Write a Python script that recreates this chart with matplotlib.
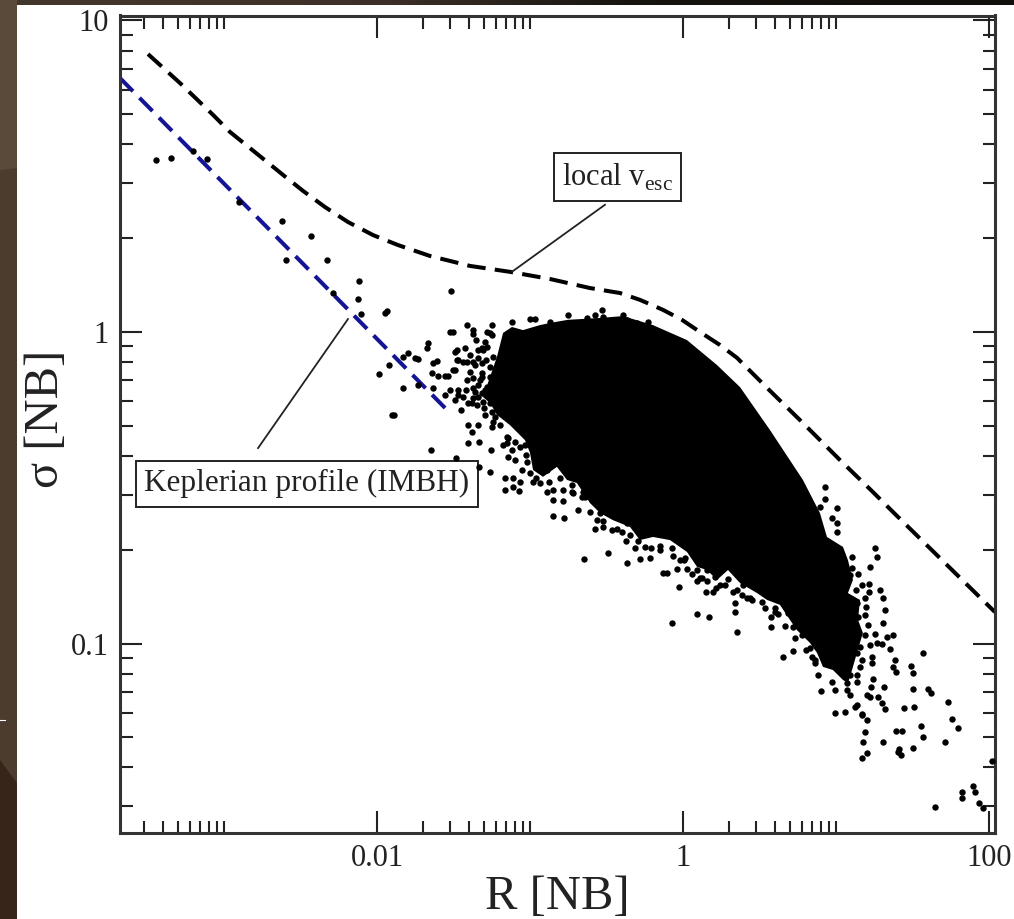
import numpy as np
import matplotlib
matplotlib.use('Agg')
import matplotlib.pyplot as plt
from matplotlib.ticker import FixedLocator, NullFormatter

plt.rcParams['font.family'] = ['Liberation Serif', 'DejaVu Serif']
plt.rcParams['mathtext.fontset'] = 'custom'
plt.rcParams['mathtext.rm'] = 'Liberation Serif'

# values, as log10(R) and log10(sigma)

# local escape velocity curve
vesc_log_r = [-3.497, -3.288, -3.072, -2.961, -2.752, -2.614, -2.484, -2.340, -2.190, -2.026,
              -1.863, -1.654, -1.392, -1.131, -0.869, -0.608, -0.412, -0.281, -0.131, -0.007,
              0.111, 0.242, 0.353, 0.569, 0.765, 1.026, 1.242, 1.373, 1.680, 2.039]
vesc_log_s = [0.892, 0.799, 0.697, 0.642, 0.559, 0.504, 0.453, 0.401, 0.353, 0.311,
              0.279, 0.244, 0.212, 0.193, 0.170, 0.141, 0.125, 0.103, 0.071, 0.039,
              0.0, -0.042, -0.083, -0.189, -0.283, -0.411, -0.514, -0.578, -0.726, -0.899]

# keplerian profile, straight in log-log
kep_log_r = [-3.680, -1.523]
kep_log_s = [0.815, -0.260]

# outline of the part of the cloud where the points merge to solid black
core_log_r = [-1.307, -1.261, -1.216, -1.176, -1.118, -1.046, -0.935, -0.869, -0.752, -0.542,
              -0.392, -0.196, 0.026, 0.222, 0.373, 0.569, 0.784, 0.895, 0.941, 1.046,
              1.078, 1.111, 1.078, 1.157, 1.144, 1.176, 1.137, 1.105, 1.078, 1.046,
              0.980, 0.915, 0.876, 0.830, 0.745, 0.699, 0.634, 0.549, 0.484, 0.373,
              0.294, 0.222, 0.157, 0.092, 0.026, -0.085, -0.196, -0.281, -0.346, -0.458,
              -0.542, -0.608, -0.693, -0.758, -0.824, -0.915, -0.980, -1.000, -1.033, -1.131,
              -1.216, -1.261]
core_log_s = [-0.209, -0.144, -0.080, -0.003, 0.016, 0.006, 0.022, 0.029, 0.039, 0.045,
              0.051, 0.022, -0.026, -0.106, -0.177, -0.315, -0.475, -0.581, -0.658, -0.690,
              -0.732, -0.796, -0.838, -0.860, -0.924, -0.966, -1.030, -1.085, -1.127, -1.117,
              -1.085, -1.075, -1.030, -0.998, -0.957, -0.924, -0.876, -0.860, -0.838, -0.806,
              -0.764, -0.796, -0.764, -0.754, -0.706, -0.668, -0.658, -0.668, -0.626, -0.604,
              -0.581, -0.549, -0.485, -0.475, -0.433, -0.465, -0.443, -0.388, -0.347, -0.299,
              -0.266, -0.228]

# single stars near the centre
inner_log_r = [-3.444, -3.346, -3.203, -3.111, -2.902, -2.621, -2.431, -2.595, -2.327, -2.118,
               -2.288, -2.124, -1.516, -1.935, -1.948, -2.105, -1.503, -1.523, -1.412, -1.373,
               -1.373, -1.248, -1.281, -1.248, -1.353, -1.667, -1.673, -1.797, -1.830, -1.752,
               -1.732, -1.922, -1.608, -1.634, -1.987, -1.641, -1.601, -1.556, -1.536, -1.830,
               -1.732, -1.634, -1.556, -1.523, -1.902, -1.889, -1.451, -1.647, -1.484]
inner_log_s = [0.552, 0.559, 0.581, 0.555, 0.417, 0.356, 0.308, 0.231, 0.231, 0.164,
               0.125, 0.106, 0.132, 0.067, 0.061, 0.058, 0.0, 0.0, 0.022, 0.006,
               -0.006, 0.022, 0.0, -0.010, -0.026, -0.035, -0.051, -0.067, -0.080, -0.083,
               -0.087, -0.106, -0.093, -0.100, -0.135, -0.132, -0.141, -0.141, -0.141, -0.180,
               -0.170, -0.180, -0.202, -0.186, -0.266, -0.266, -0.250, -0.379, -0.404]

# left and lower-left side of the cloud
left_log_r = [-1.490, -1.425, -1.477, -1.438, -1.373, -1.490, -1.412, -1.373, -1.471, -1.438,
              -1.490, -1.379, -1.314, -1.294, -1.261, -1.314, -1.261, -1.314, -1.261, -1.340,
              -1.307, -1.261, -1.294, -1.242, -1.216, -1.405, -1.340, -1.379, -1.405, -1.333,
              -1.255, -1.261, -1.333, -1.242, -1.248, -1.229, -1.176, -1.144, -1.144, -1.098,
              -1.098, -1.065, -1.052, -1.000, -0.980, -0.935, -1.163, -1.111, -1.065, -1.163,
              -1.111, -1.072, -0.954, -0.935, -0.889, -0.889, -0.850, -0.784, -0.850, -0.784,
              -0.719, -0.654, -0.850, -0.778, -0.686, -0.575, -0.523, -0.464, -0.647, -0.490,
              -0.366, -0.281, -0.216, -0.209, -0.373, -0.294, -0.366, -0.542, -0.458,
              -1.477, -1.471, -1.412, -1.359, -1.503, -1.373, -1.314, -1.327, -1.281, -1.471,
              -1.373, -1.314, -1.281, -1.307, -1.242, -1.150, -1.118, -1.150, -1.033, -1.020,
              -0.967, -0.804, -0.725, -0.641, -0.562, -0.399, -0.314, -0.150, -0.020, 0.111,
              0.275, 0.438, 0.601,
              -1.026, -0.961, -0.876, -0.725, -0.660, -0.608, -0.523, -0.431, -0.346, -0.248,
              -0.150, -0.072, 0.007, 0.059, 0.124, 0.216, 0.294, 0.353, 0.451, 0.536,
              0.621, 0.667, 0.732, 0.804, 0.863,
              -1.340, -1.392, -1.340, -1.288, -1.392, -1.340, -1.418, -1.359, -1.301, -1.346,
              -1.405, -1.248, -1.294, -1.196]
left_log_s = [-0.064, -0.051, -0.090, -0.096, -0.096, -0.122, -0.154, -0.180, -0.186, -0.209,
              -0.218, -0.228, -0.051, -0.032, -0.003, -0.100, -0.112, -0.144, -0.144, -0.209,
              -0.225, -0.228, -0.186, -0.209, -0.241, -0.299, -0.299, -0.321, -0.356, -0.353,
              -0.379, -0.449, -0.433, -0.289, -0.305, -0.273, -0.363, -0.340, -0.401, -0.411,
              -0.353, -0.369, -0.443, -0.453, -0.482, -0.485, -0.469, -0.469, -0.482, -0.507,
              -0.498, -0.510, -0.401, -0.427, -0.443, -0.514, -0.507, -0.507, -0.539, -0.542,
              -0.517, -0.514, -0.591, -0.597, -0.571, -0.632, -0.626, -0.636, -0.729, -0.709,
              -0.742, -0.729, -0.725, -0.693, -0.671, -0.671, -0.613, -0.581, -0.562,
              -0.058, -0.090, -0.096, -0.106, -0.122, -0.148, -0.132, -0.154, -0.177, -0.202,
              -0.212, -0.196, -0.048, -0.058, -0.080, -0.356, -0.379, -0.337, -0.363, -0.417,
              -0.369, -0.469, -0.491, -0.530, -0.604, -0.642, -0.693, -0.700, -0.732, -0.790,
              -0.812, -0.854, -0.899,
              -0.395, -0.469, -0.482, -0.514, -0.530, -0.578, -0.607, -0.632, -0.652, -0.690,
              -0.687, -0.693, -0.732, -0.777, -0.790, -0.822, -0.793, -0.828, -0.860, -0.886,
              -0.905, -0.944, -0.982, -1.021, -1.053,
              -0.058, -0.074, -0.083, -0.090, -0.128, -0.170, -0.186, -0.193, -0.244, -0.234,
              -0.228, -0.257, -0.266, -0.299]

# bumps on the top edge
top_log_r = [-0.967, -1.000, -1.118, -0.869, -0.752, -0.627, -0.575, -0.529, -0.523, -0.392,
             -0.366, -0.229, -0.301]
top_log_s = [0.042, 0.042, 0.032, 0.032, 0.055, 0.045, 0.055, 0.071, 0.048, 0.055,
             0.039, 0.032, 0.029]

# lower edge
low_log_r = [-0.065, -0.039, -0.131, -0.105, 0.026, 0.013, -0.026, 0.092, 0.157, 0.150,
             0.196, 0.242, 0.209, 0.157, 0.092, -0.072, 0.092, 0.170, 0.353, 0.327,
             0.386, 0.418, 0.340, 0.340, 0.392, 0.484, 0.516, 0.601, 0.575, 0.575,
             0.686, 0.719, 0.778, 0.830, 0.843, 0.863, 0.882, 0.974, 0.902, 0.993,
             0.654, 0.719, 0.993, 1.059]
low_log_s = [-0.719, -0.761, -0.774, -0.774, -0.761, -0.725, -0.819, -0.799, -0.799, -0.835,
             -0.835, -0.812, -0.786, -0.764, -0.764, -0.934, -0.905, -0.915, -0.963, -0.835,
             -0.844, -0.854, -0.870, -0.899, -0.812, -0.822, -0.867, -0.886, -0.915, -0.947,
             -0.902, -0.947, -0.973, -1.014, -1.043, -1.062, -1.101, -1.124, -1.152, -1.149,
             -1.043, -1.024, -1.223, -1.220]

# the tail at large radius
tail_log_r = [1.072, 1.072, 1.092, 1.137, 1.124, 1.170, 1.203, 1.190, 1.176, 1.203,
              1.170, 1.307, 1.392, 1.431, 1.405, 1.203, 1.222, 1.242, 1.229, 1.275,
              1.301, 1.320, 1.314, 1.157, 1.235, 1.235, 1.386, 1.373, 1.392, 1.353,
              1.301, 1.268, 1.373, 1.333, 1.255, 1.190, 1.307, 1.320, 1.307, 1.288,
              1.216, 1.216, 1.190, 1.190, 1.144, 1.222, 1.268, 1.255, 1.105, 1.105,
              1.007, 1.007, 0.974, 1.007, 0.928, 0.928, 0.895, 1.137, 1.144, 1.111,
              1.157, 1.137, 1.569, 1.490, 1.503, 1.503, 1.601, 1.621, 1.732, 1.444,
              1.510, 1.758, 1.797, 1.556, 1.569, 1.712, 1.503, 1.412, 1.425, 2.020,
              1.895, 1.908, 1.824, 1.824, 1.647, 1.935, 1.961, 1.137, 1.170,
              1.092, 1.131, 1.170, 1.196, 1.209, 1.222, 1.170, 1.137, 1.092]
tail_log_s = [-1.127, -1.149, -1.165, -1.124, -1.204, -1.230, -1.246, -1.284, -1.316, -1.351,
              -1.368, -1.316, -1.281, -1.281, -1.348, -1.165, -1.172, -1.114, -1.140, -1.172,
              -1.191, -1.210, -1.140, -1.075, -1.043, -1.062, -1.053, -1.075, -1.091, -1.018,
              -1.002, -0.998, -0.973, -0.979, -0.969, -0.973, -0.934, -0.892, -0.854, -0.828,
              -0.835, -0.809, -0.854, -0.908, -0.777, -0.754, -0.722, -0.693, -0.722, -0.758,
              -0.642, -0.613, -0.597, -0.565, -0.498, -0.536, -0.562, -0.870, -0.915, -0.947,
              -1.011, -1.030, -1.030, -1.072, -1.095, -1.146, -1.146, -1.159, -1.188, -1.207,
              -1.204, -1.242, -1.271, -1.265, -1.300, -1.316, -1.335, -1.339, -1.358, -1.377,
              -1.457, -1.477, -1.477, -1.496, -1.525, -1.512, -1.528, -1.197, -1.226,
              -0.780, -0.828, -0.812, -0.883, -0.941, -1.005, -1.053, -1.101, -1.101]

x_major = [0.01, 1, 100]
x_labels = ['0.01', '1', '100']
y_major = [0.1, 1, 10]
y_labels = ['0.1', '1', '10']

W, H = 1014, 919
fig = plt.figure(figsize=(W / 100, H / 100), dpi=100, facecolor='white')

# the slide background showing at the left and top edges
bg = fig.add_axes([0, 0, 1, 1])
bg.axis('off')
bg.fill([0, 17, 17, 0], [0, 0, H, H], color='#4c3c2e', lw=0)
bg.fill([0, 17, 17, 0], [0, 0, 168, 170], color='#5a4a3a', lw=0)
bg.fill([0, 17, 17, 0], [760, 783, H, H], color='#38251a', lw=0)
top_strip = np.array([[[0.26, 0.21, 0.17], [0.24, 0.19, 0.16], [0.09, 0.08, 0.06], [0.07, 0.06, 0.05]]])
bg.imshow(top_strip, extent=(0, W, 5, 0), aspect='auto', interpolation='bilinear')
bg.plot([0, 5], [720, 720], color='white', lw=0.8)
bg.set_xlim(0, W)
bg.set_ylim(H, 0)

ax = fig.add_axes([120 / W, (H - 833) / H, 875 / W, 817.5 / H])
ax.patch.set_alpha(0)
ax.set_xscale('log')
ax.set_yscale('log')
ax.set_xlim(2.09e-4, 109.5)
ax.set_ylim(0.02465, 10.37)

# solid part first, then the single points around it
ax.fill(10 ** np.array(core_log_r), 10 ** np.array(core_log_s), color='black', lw=0, zorder=3)
for lr, ls in [(inner_log_r, inner_log_s), (left_log_r, left_log_s), (top_log_r, top_log_s),
               (low_log_r, low_log_s), (tail_log_r, tail_log_s)]:
    ax.plot(10 ** np.array(lr), 10 ** np.array(ls), 'o', ms=4.6, mew=0, color='black',
            zorder=5, clip_on=False)

ax.plot(10 ** np.array(kep_log_r), 10 ** np.array(kep_log_s), color='#141496', lw=2.9,
        dashes=(4.6, 2.3), dash_capstyle='butt', zorder=2)
ax.plot(10 ** np.array(vesc_log_r), 10 ** np.array(vesc_log_s), color='black', lw=2.9,
        dashes=(4.6, 2.3), dash_capstyle='butt', zorder=2)

# labels with their leader lines
box = dict(boxstyle='square,pad=0.27', facecolor='white', edgecolor='#222222', linewidth=1.4)
ax.text(0.373, 3.14, r'local v$_{\mathrm{esc}}$', fontsize=22, ha='center', va='center',
        color='#222222', bbox=box, zorder=4)
ax.text(0.00349, 0.326, 'Keplerian profile (IMBH)', fontsize=22.5, ha='center', va='center',
        color='#222222', bbox=box, zorder=4)
ax.plot([0.309, 0.0762], [2.56, 1.56], color='#222222', lw=1.3, zorder=3)
ax.plot([0.00167, 0.00646], [0.424, 1.10], color='#222222', lw=1.3, zorder=3)

ax.xaxis.set_major_locator(FixedLocator(x_major))
ax.yaxis.set_major_locator(FixedLocator(y_major))
ax.set_xticklabels(x_labels)
ax.set_yticklabels(y_labels)
ax.xaxis.set_minor_locator(FixedLocator([m * d for d in [1e-4, 1e-2, 1, 100] for m in range(2, 11)]))
ax.yaxis.set_minor_locator(FixedLocator([m * d for d in [0.01, 0.1, 1] for m in range(2, 10)]))
ax.xaxis.set_minor_formatter(NullFormatter())
ax.yaxis.set_minor_formatter(NullFormatter())
ax.tick_params(which='major', direction='in', top=True, right=True, length=16, width=1.5,
               labelsize=22, color='#222222', labelcolor='#222222', pad=8)
ax.tick_params(which='minor', direction='in', top=True, right=True, length=9, width=1.5,
               color='#222222')
for s in ax.spines.values():
    s.set_linewidth(2.2)
    s.set_color('#333333')

ax.set_xlabel('R [NB]', fontsize=35, color='#222222', labelpad=1)
ax.set_ylabel('σ [NB]', fontsize=35, color='#222222', labelpad=2, y=0.507)

fig.savefig('out.png', dpi=100)
